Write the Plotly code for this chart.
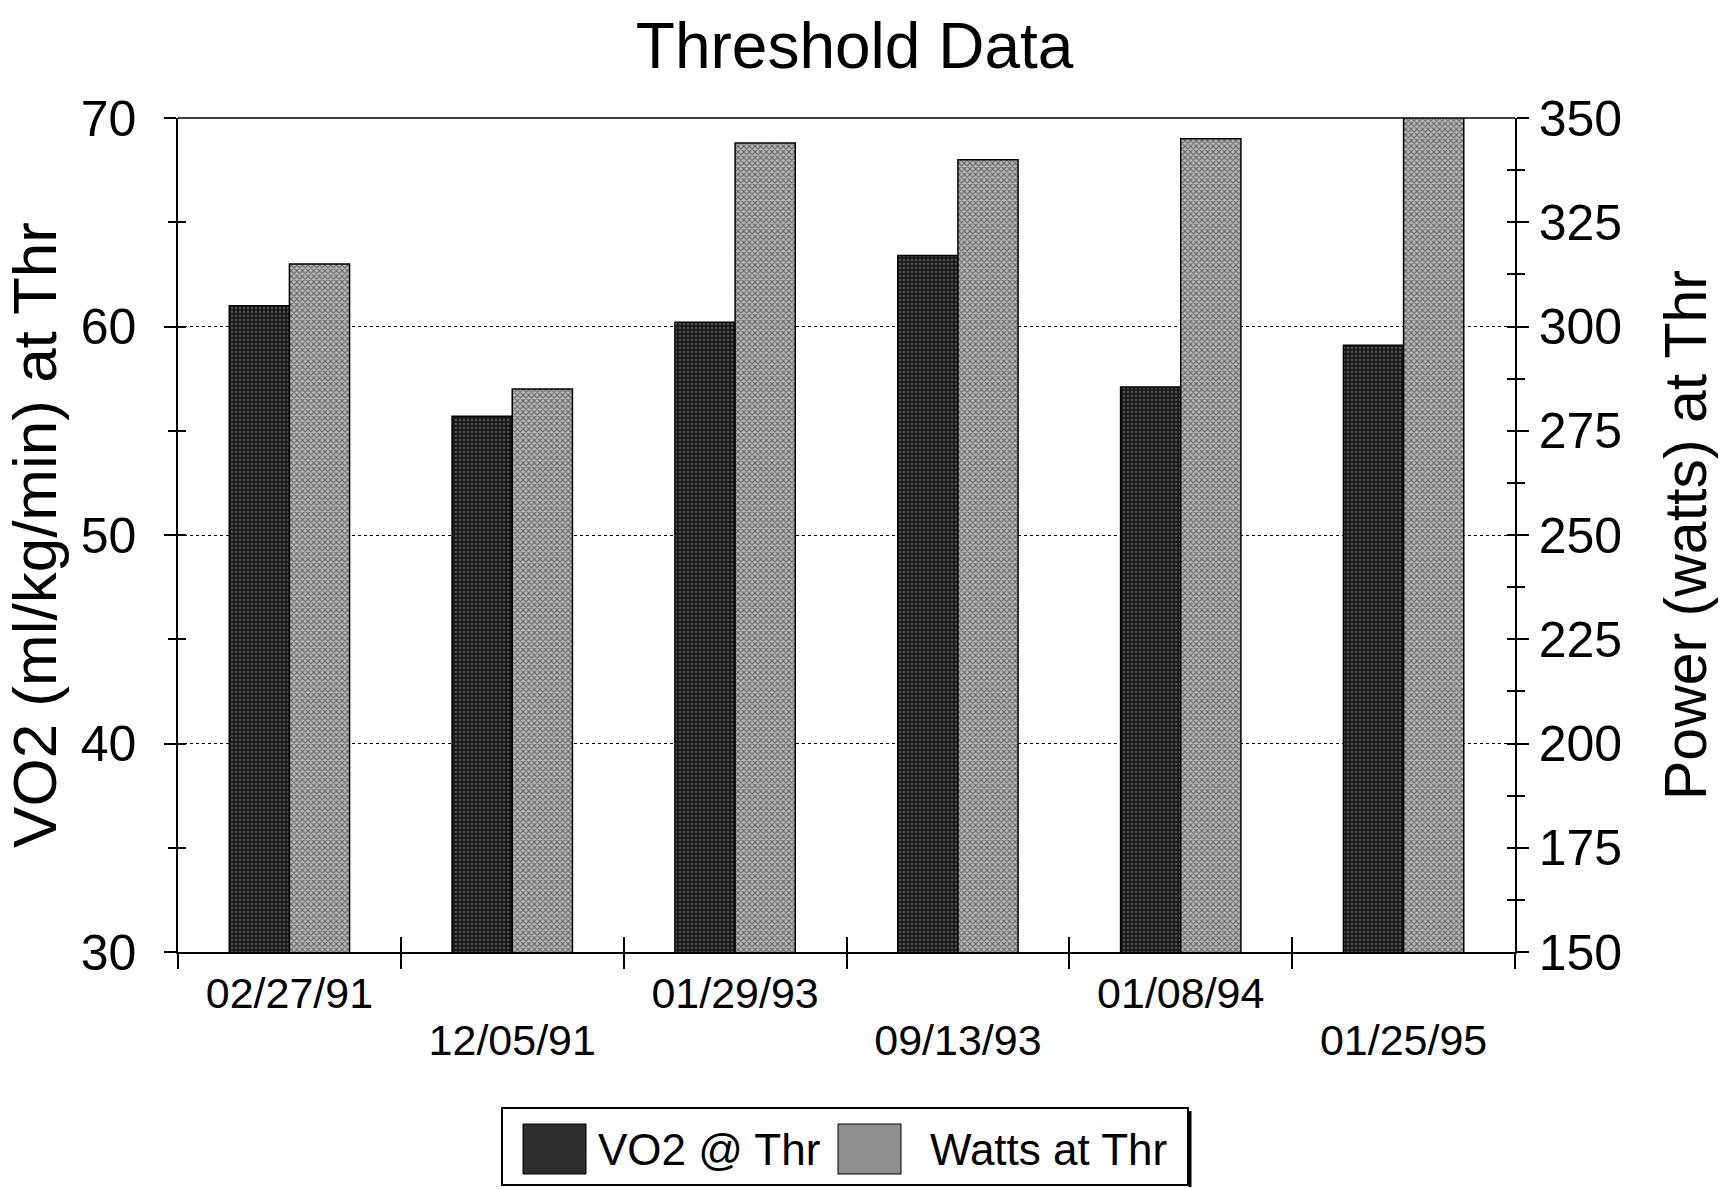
import plotly.graph_objects as go

# Test dates and threshold measurements
dates = ["02/27/91", "12/05/91", "01/29/93", "09/13/93", "01/08/94", "01/25/95"]
vo2_at_thr = [61.0, 55.7, 60.2, 63.4, 57.1, 59.1]        # ml/kg/min
watts_at_thr = [315, 285, 344, 340, 345, 375]           # watts

vo2_ticks = [30, 40, 50, 60, 70]
watts_ticks = [150, 175, 200, 225, 250, 275, 300, 325, 350]

series_names = ["VO2 @ Thr", "Watts at Thr"]
series_colors = ["#2e2e2e", "#8e8e8e"]

FONT = "Liberation Sans, Arial, Helvetica, sans-serif"

W, H = 1723, 1189
ML, MR, MT, MB = 178, 208, 118, 237
PW, PH = W - ML - MR, H - MT - MB


def px_x(p):
    """pixel column -> paper x"""
    return (p - ML) / PW


def px_y(p):
    """pixel row -> paper y"""
    return (H - MB - p) / PH


fig = go.Figure()

fig.add_trace(go.Bar(
    x=dates, y=vo2_at_thr, name=series_names[0],
    offsetgroup="vo2", yaxis="y", xaxis="x", showlegend=False,
    marker=dict(color=series_colors[0], line=dict(color="black", width=1.5),
                pattern=dict(shape=".", bgcolor="#1a1a1a", fgcolor="#9a9a9a",
                             size=4, solidity=0.25)),
))
fig.add_trace(go.Bar(
    x=dates, y=watts_at_thr, name=series_names[1],
    offsetgroup="watts", yaxis="y2", xaxis="x", showlegend=False,
    marker=dict(color=series_colors[1], line=dict(color="black", width=1.5),
                pattern=dict(shape="x", bgcolor="#bdbdbd", fgcolor="#111111",
                             size=4, solidity=0.5)),
))

# helper traces so the overlay axes (crossing ticks, second label row) are drawn
fig.add_trace(go.Scatter(x=dates, y=[None] * len(dates), xaxis="x2", yaxis="y3",
                         showlegend=False, hoverinfo="skip"))
fig.add_trace(go.Scatter(x=dates, y=[None] * len(dates), xaxis="x2", yaxis="y4",
                         showlegend=False, hoverinfo="skip"))

row1 = [d if i % 2 == 0 else "" for i, d in enumerate(dates)]
row2 = [d if i % 2 == 1 else "" for i, d in enumerate(dates)]

axis_common = dict(showline=True, linecolor="black", linewidth=1.5,
                   tickcolor="black", tickwidth=1.5, zeroline=False, automargin=False)

fig.update_layout(
    width=W, height=H,
    margin=dict(l=ML, r=MR, t=MT, b=MB, autoexpand=False),
    paper_bgcolor="white", plot_bgcolor="white",
    barmode="group", bargap=0.46, bargroupgap=0,
    title=dict(text="Threshold Data", x=0.496, xanchor="center", y=0.962, yanchor="middle",
               font=dict(family=FONT, size=64, color="black")),
    font=dict(family=FONT, color="black"),
    showlegend=False,
    xaxis=dict(**axis_common, type="category", categoryorder="array", categoryarray=dates,
               range=[-0.5, 5.5], tickmode="array", tickvals=dates, ticktext=row1,
               ticks="outside", ticklen=15, tickson="boundaries", mirror=False,
               ticklabelstandoff=3,
               tickfont=dict(family=FONT, size=43, color="black"),
               showgrid=False, anchor="y"),
    xaxis2=dict(type="category", categoryorder="array", categoryarray=dates,
                range=[-0.5, 5.5], overlaying="x", side="bottom", anchor="y",
                tickmode="array", tickvals=dates, ticktext=row2, showline=False,
                ticks="inside", ticklen=15, tickson="boundaries", tickcolor="black",
                tickwidth=1.5, ticklabelstandoff=59, automargin=False,
                tickfont=dict(family=FONT, size=43, color="black"),
                showgrid=False, zeroline=False),
    yaxis=dict(**axis_common, range=[30, 70], tickmode="array", tickvals=vo2_ticks,
               ticks="outside", ticklen=12, ticklabelstandoff=18,
               minor=dict(dtick=5, tick0=30, ticks="outside", ticklen=8,
                          tickcolor="black", tickwidth=1.5, showgrid=False),
               tickfont=dict(family=FONT, size=50, color="black"),
               showgrid=True, gridcolor="black", gridwidth=1.2, griddash="dot",
               title=dict(text="VO2 (ml/kg/min) at Thr", standoff=26,
                          font=dict(family=FONT, size=62, color="black"))),
    yaxis2=dict(**axis_common, range=[150, 350], overlaying="y", side="right",
                anchor="x", tickmode="array", tickvals=watts_ticks,
                ticks="outside", ticklen=12, ticklabelstandoff=0,
                minor=dict(dtick=12.5, tick0=150, ticks="outside", ticklen=8,
                           tickcolor="black", tickwidth=1.5, showgrid=False),
                tickfont=dict(family=FONT, size=50, color="black"),
                showgrid=False,
                title=dict(text="Power (watts) at Thr", standoff=44,
                           font=dict(family=FONT, size=59, color="black"))),
    # inner halves of the crossing ticks on both value axes
    yaxis3=dict(range=[30, 70], overlaying="y", side="left", anchor="x2",
                tickmode="linear", tick0=30, dtick=5, ticks="inside", ticklen=8,
                tickcolor="black", tickwidth=1.5, showticklabels=False,
                showgrid=False, zeroline=False, showline=False, automargin=False),
    yaxis4=dict(range=[150, 350], overlaying="y", side="right", anchor="x2",
                tickmode="linear", tick0=150, dtick=12.5, ticks="inside", ticklen=8,
                tickcolor="black", tickwidth=1.5, showticklabels=False,
                showgrid=False, zeroline=False, showline=False, automargin=False),
)

# top frame edge
fig.add_shape(type="line", xref="paper", yref="paper", x0=0, x1=1, y0=1, y1=1,
              line=dict(color="black", width=1.5))

# boxed legend below the plot with large swatches
fig.add_shape(type="rect", xref="paper", yref="paper",
              x0=px_x(502), x1=px_x(1188), y0=px_y(1108), y1=px_y(1185),
              line=dict(color="black", width=2), fillcolor="white", layer="above")
fig.add_shape(type="line", xref="paper", yref="paper",
              x0=px_x(1190), x1=px_x(1190), y0=px_y(1111), y1=px_y(1187),
              line=dict(color="black", width=3))
swatch_x = [(523, 586), (838, 901)]
label_x = [596, 928]
for name, color, (sx0, sx1), lx in zip(series_names, series_colors, swatch_x, label_x):
    fig.add_shape(type="rect", xref="paper", yref="paper",
                  x0=px_x(sx0), x1=px_x(sx1), y0=px_y(1124), y1=px_y(1174),
                  line=dict(color="black", width=1), fillcolor=color, layer="above")
    fig.add_annotation(text=name, xref="paper", yref="paper",
                       x=px_x(lx), y=px_y(1149), xanchor="left", yanchor="middle",
                       showarrow=False, font=dict(family=FONT, size=44, color="black"))

fig.write_html("out.html")
